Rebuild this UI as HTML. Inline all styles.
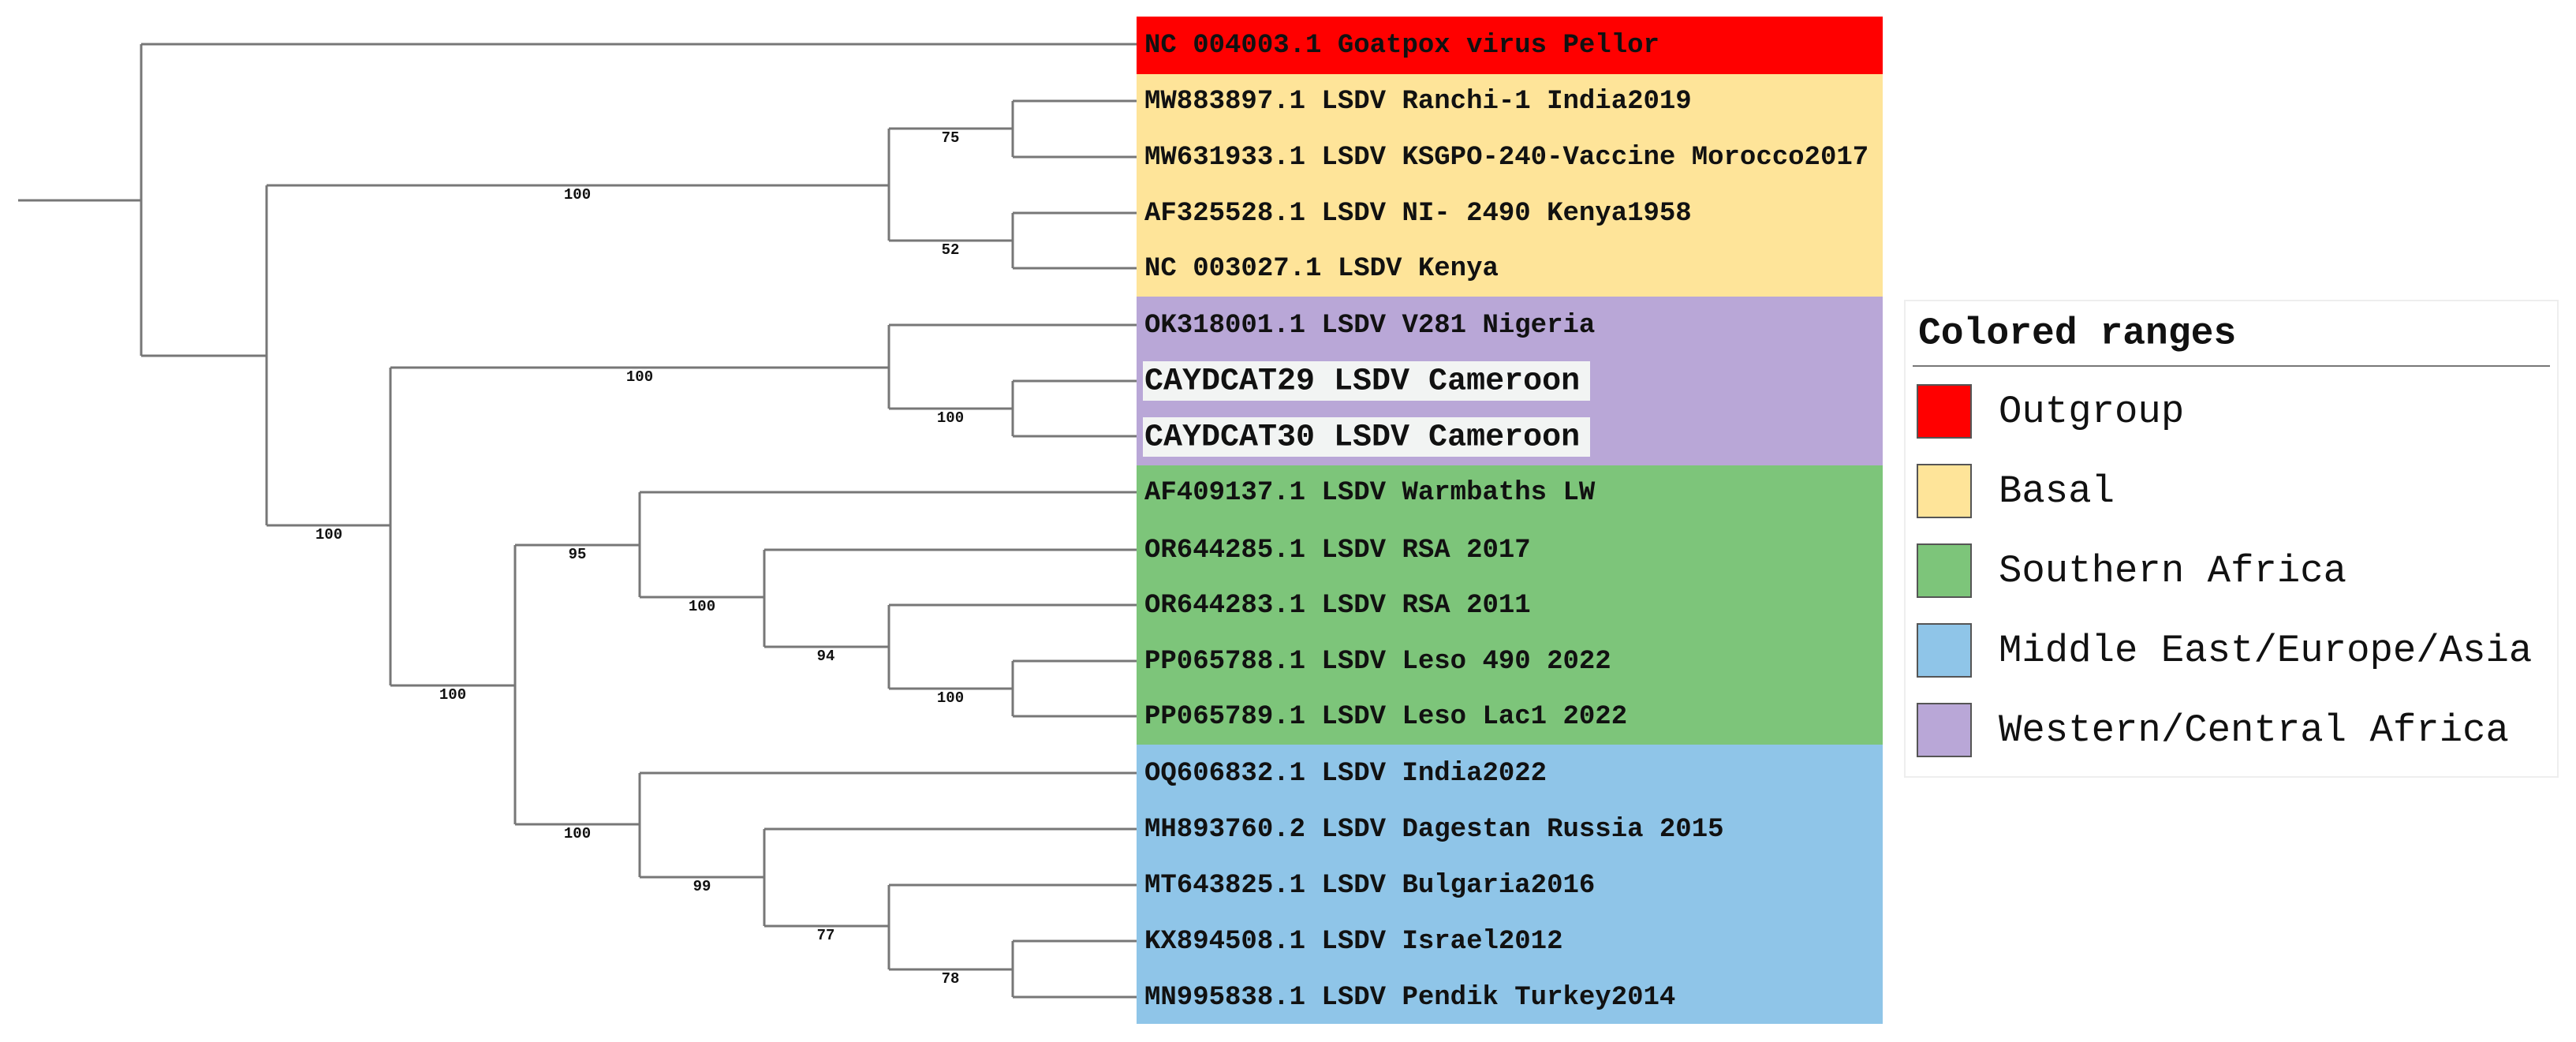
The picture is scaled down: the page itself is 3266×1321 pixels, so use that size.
<!DOCTYPE html>
<html><head><meta charset="utf-8"><style>
html,body{margin:0;padding:0;background:#fff;}
svg{display:block;}
</style></head><body>
<svg width="3266" height="1321" viewBox="0 0 3266 1321" xmlns="http://www.w3.org/2000/svg">
<!-- colored ranges -->
<rect x="1441" y="21" width="946" height="73" fill="#ff0000"/>
<rect x="1441" y="94" width="946" height="282" fill="#fee499"/>
<rect x="1441" y="376" width="946" height="214" fill="#b9a7d7"/>
<rect x="1441" y="590" width="946" height="354" fill="#7dc57a"/>
<rect x="1441" y="944" width="946" height="354" fill="#8fc5e8"/>
<rect x="1449" y="458" width="567" height="50" fill="#f2f4f3"/>
<rect x="1449" y="529" width="567" height="50" fill="#f2f4f3"/>

<g stroke="#777" stroke-width="3" fill="none">
<!-- root -->
<path d="M23 254H179"/>
<path d="M179 56V451"/>
<path d="M179 56H1441"/>
<path d="M179 451H338"/>
<!-- node A -->
<path d="M338 235V666"/>
<path d="M338 235H1127"/>
<path d="M1127 163V305"/>
<path d="M1127 163H1284"/>
<path d="M1284 128V199M1284 128H1441M1284 199H1441"/>
<path d="M1127 305H1284"/>
<path d="M1284 270V340M1284 270H1441M1284 340H1441"/>
<!-- node B -->
<path d="M338 666H495"/>
<path d="M495 466V869"/>
<path d="M495 466H1127"/>
<path d="M1127 412V518M1127 412H1441M1127 518H1284"/>
<path d="M1284 483V553M1284 483H1441M1284 553H1441"/>
<!-- node C -->
<path d="M495 869H653"/>
<path d="M653 691V1045"/>
<path d="M653 691H811"/>
<path d="M811 624V757M811 624H1441M811 757H969"/>
<path d="M969 697V820M969 697H1441M969 820H1127"/>
<path d="M1127 767V873M1127 767H1441M1127 873H1284"/>
<path d="M1284 838V908M1284 838H1441M1284 908H1441"/>
<path d="M653 1045H811"/>
<path d="M811 980V1112M811 980H1441M811 1112H969"/>
<path d="M969 1051V1174M969 1051H1441M969 1174H1127"/>
<path d="M1127 1122V1229M1127 1122H1441M1127 1229H1284"/>
<path d="M1284 1193V1264M1284 1193H1441M1284 1264H1441"/>
</g>

<g font-family="Liberation Mono, monospace" font-weight="bold" font-size="19" fill="#111" text-anchor="middle" dominant-baseline="middle">
<text x="732" y="247">100</text>
<text x="1205" y="175">75</text>
<text x="1205" y="317">52</text>
<text x="417" y="678">100</text>
<text x="811" y="478">100</text>
<text x="1205" y="530">100</text>
<text x="574" y="881">100</text>
<text x="732" y="703">95</text>
<text x="890" y="769">100</text>
<text x="1047" y="832">94</text>
<text x="1205" y="885">100</text>
<text x="732" y="1057">100</text>
<text x="890" y="1124">99</text>
<text x="1047" y="1186">77</text>
<text x="1205" y="1241">78</text>
</g>

<g font-family="Liberation Mono, monospace" font-weight="bold" font-size="34" fill="#111" dominant-baseline="middle">
<text x="1451" y="57">NC 004003.1 Goatpox virus Pellor</text>
<text x="1451" y="128">MW883897.1 LSDV Ranchi-1 India2019</text>
<text x="1451" y="199">MW631933.1 LSDV KSGPO-240-Vaccine Morocco2017</text>
<text x="1451" y="270">AF325528.1 LSDV NI- 2490 Kenya1958</text>
<text x="1451" y="340">NC 003027.1 LSDV Kenya</text>
<text x="1451" y="412">OK318001.1 LSDV V281 Nigeria</text>
<text x="1451" y="483" font-size="40">CAYDCAT29 LSDV Cameroon</text>
<text x="1451" y="554" font-size="40">CAYDCAT30 LSDV Cameroon</text>
<text x="1451" y="624">AF409137.1 LSDV Warmbaths LW</text>
<text x="1451" y="697">OR644285.1 LSDV RSA 2017</text>
<text x="1451" y="767">OR644283.1 LSDV RSA 2011</text>
<text x="1451" y="838">PP065788.1 LSDV Leso 490 2022</text>
<text x="1451" y="908">PP065789.1 LSDV Leso Lac1 2022</text>
<text x="1451" y="980">OQ606832.1 LSDV India2022</text>
<text x="1451" y="1051">MH893760.2 LSDV Dagestan Russia 2015</text>
<text x="1451" y="1122">MT643825.1 LSDV Bulgaria2016</text>
<text x="1451" y="1193">KX894508.1 LSDV Israel2012</text>
<text x="1451" y="1264">MN995838.1 LSDV Pendik Turkey2014</text>
</g>

<!-- legend -->
<rect x="2415" y="381" width="828" height="604" fill="#fff" stroke="#eee" stroke-width="2"/>
<text x="2432" y="423" font-family="Liberation Mono, monospace" font-weight="bold" font-size="48" fill="#111" dominant-baseline="middle">Colored ranges</text>
<line x1="2425" y1="464" x2="3233" y2="464" stroke="#777" stroke-width="2"/>
<g stroke="#555" stroke-width="2">
<rect x="2431" y="488" width="68" height="67" fill="#ff0000"/>
<rect x="2431" y="589" width="68" height="67" fill="#fee499"/>
<rect x="2431" y="690" width="68" height="67" fill="#7dc57a"/>
<rect x="2431" y="791" width="68" height="67" fill="#8fc5e8"/>
<rect x="2431" y="892" width="68" height="67" fill="#b9a7d7"/>
</g>
<g font-family="Liberation Mono, monospace" font-size="49" fill="#111" dominant-baseline="middle">
<text x="2534" y="522">Outgroup</text>
<text x="2534" y="623">Basal</text>
<text x="2534" y="724">Southern Africa</text>
<text x="2534" y="825">Middle East/Europe/Asia</text>
<text x="2534" y="926">Western/Central Africa</text>
</g>
</svg>
</body></html>
